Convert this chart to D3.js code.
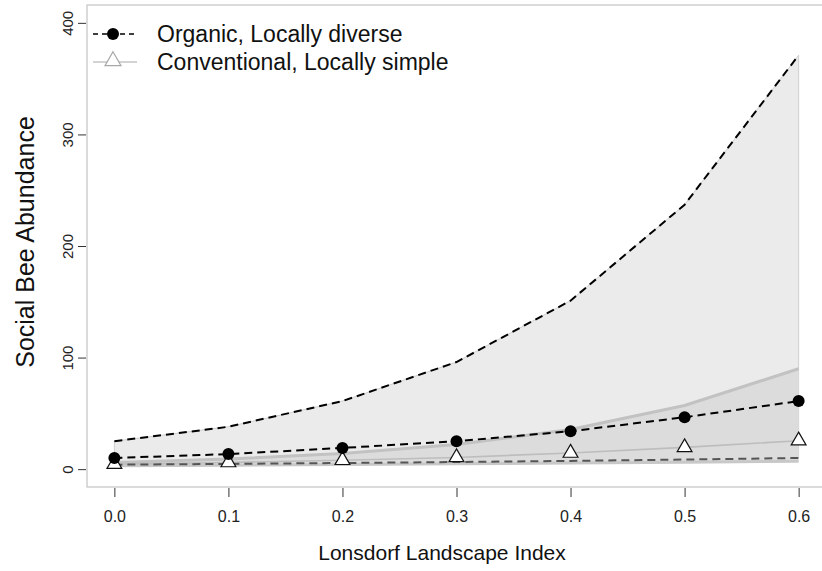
<!DOCTYPE html>
<html>
<head>
<meta charset="utf-8">
<script src="https://cdn.jsdelivr.net/npm/d3@7/dist/d3.min.js"></script>
<style>
  html, body { margin: 0; padding: 0; background: #fff; }
  svg { display: block; font-family: "Liberation Sans", Arial, sans-serif; }
</style>
</head>
<body>
<svg id="chart" width="822" height="571"></svg>
<script>
// ---- data ----
const landscape = [0.0, 0.1, 0.2, 0.3, 0.4, 0.5, 0.6];
const xTicks = [0.0, 0.1, 0.2, 0.3, 0.4, 0.5, 0.6];
const yTicks = [0, 100, 200, 300, 400];

const organicMean  = [10, 13.5, 19, 25, 34, 46.5, 61];
const organicUpper = [25, 38, 61, 96, 151, 237, 371];
const organicLower = [4, 4.7, 5.5, 6.4, 7.4, 8.6, 10];

const conventionalMean  = [4.5, 6, 8, 10.5, 14.5, 19.5, 25.5];
const conventionalUpper = [6, 9, 14, 22, 35.5, 57, 90];
const conventionalLower = [3, 3.6, 4.2, 4.8, 5.5, 6.2, 7];

const legendLabels = ["Organic, Locally diverse", "Conventional, Locally simple"];
const xLabel = "Lonsdorf Landscape Index";
const yLabel = "Social Bee Abundance";

// ---- layout ----
const svg = d3.select("#chart");
const box = { left: 87, right: 826, top: 5, bottom: 487 };

const x = d3.scaleLinear().domain([-0.024, 0.624]).range([box.left, box.right]);
const y = d3.scaleLinear().domain([-16, 416]).range([box.bottom, box.top]);

const pts = (arr) => arr.map((v, i) => [landscape[i], v]);
const line = d3.line().x(d => x(d[0])).y(d => y(d[1]));
const band = (lo, hi) => d3.area()
  .x((d, i) => x(landscape[i]))
  .y0((d, i) => y(lo[i]))
  .y1((d, i) => y(hi[i]))(landscape);

// bands
svg.append("path").attr("d", band(organicLower, organicUpper))
  .attr("fill", "#ebebeb").attr("stroke", "#cfcfcf").attr("stroke-width", 1);
svg.append("path").attr("d", band(conventionalLower, conventionalUpper))
  .attr("fill", "#dcdcdc").attr("stroke", "none");

// conventional lines
svg.append("path").attr("d", line(pts(conventionalUpper)))
  .attr("fill", "none").attr("stroke", "#c2c2c2").attr("stroke-width", 3);
svg.append("path").attr("d", line(pts(conventionalLower)))
  .attr("fill", "none").attr("stroke", "#c8c8c8").attr("stroke-width", 3);
svg.append("path").attr("d", line(pts(conventionalMean)))
  .attr("fill", "none").attr("stroke", "#bdbdbd").attr("stroke-width", 1.6);

// organic lines
svg.append("path").attr("d", line(pts(organicUpper)))
  .attr("fill", "none").attr("stroke", "#000").attr("stroke-width", 2)
  .attr("stroke-dasharray", "8,5");
svg.append("path").attr("d", line(pts(organicLower)))
  .attr("fill", "none").attr("stroke", "#555").attr("stroke-width", 2)
  .attr("stroke-dasharray", "8,5");
svg.append("path").attr("d", line(pts(organicMean)))
  .attr("fill", "none").attr("stroke", "#000").attr("stroke-width", 2)
  .attr("stroke-dasharray", "8,5");

// markers
const tri = d3.symbol().type(d3.symbolTriangle).size(95);
svg.append("g").selectAll("path").data(pts(conventionalMean)).join("path")
  .attr("d", tri)
  .attr("transform", d => `translate(${x(d[0])},${y(d[1])})`)
  .attr("fill", "#fff").attr("stroke", "#111").attr("stroke-width", 1.2);
svg.append("g").selectAll("circle").data(pts(organicMean)).join("circle")
  .attr("cx", d => x(d[0])).attr("cy", d => y(d[1])).attr("r", 6)
  .attr("fill", "#000");

// frame
svg.append("rect")
  .attr("x", box.left).attr("y", box.top)
  .attr("width", box.right - box.left).attr("height", box.bottom - box.top)
  .attr("fill", "none").attr("stroke", "#c4c4c4").attr("stroke-width", 1.2);

// x axis
const xAxis = svg.append("g").attr("transform", `translate(0,${box.bottom + 1})`)
  .call(d3.axisBottom(x).tickValues(xTicks).tickFormat(d3.format(".1f"))
    .tickSize(9).tickPadding(14));
xAxis.select(".domain").remove();
xAxis.selectAll(".tick line").attr("stroke", "#333");
xAxis.selectAll(".tick text").attr("fill", "#222")
  .style("font-size", "16px").style("font-family", "Liberation Sans, Arial, sans-serif");

// y axis
const yAxis = svg.append("g").attr("transform", `translate(${box.left - 1},0)`)
  .call(d3.axisLeft(y).tickValues(yTicks).tickFormat(d3.format("d")).tickSize(8));
yAxis.select(".domain").remove();
yAxis.selectAll(".tick line").attr("stroke", "#333");
yAxis.selectAll(".tick text")
  .attr("x", null).attr("dy", null)
  .attr("text-anchor", "middle")
  .attr("transform", "translate(-13,0) rotate(-90)")
  .attr("fill", "#222")
  .style("font-size", "15px").style("font-family", "Liberation Sans, Arial, sans-serif");

// axis labels
svg.append("text").attr("x", 442).attr("y", 560).attr("text-anchor", "middle")
  .style("font-size", "21px").attr("fill", "#111").text(xLabel);
svg.append("text").attr("transform", "translate(34,242) rotate(-90)")
  .attr("text-anchor", "middle").style("font-size", "25px").attr("fill", "#111")
  .text(yLabel);

// legend
const lg = svg.append("g");
lg.append("line").attr("x1", 93).attr("x2", 137).attr("y1", 34).attr("y2", 34)
  .attr("stroke", "#000").attr("stroke-width", 1.5).attr("stroke-dasharray", "5,4");
lg.append("circle").attr("cx", 113).attr("cy", 34).attr("r", 6).attr("fill", "#000");
lg.append("line").attr("x1", 93).attr("x2", 137).attr("y1", 62).attr("y2", 62)
  .attr("stroke", "#c4c4c4").attr("stroke-width", 1.5);
lg.append("path").attr("d", d3.symbol().type(d3.symbolTriangle).size(110)())
  .attr("transform", "translate(113,61)")
  .attr("fill", "#fff").attr("stroke", "#a8a8a8").attr("stroke-width", 1.2);
lg.selectAll("text").data(legendLabels).join("text")
  .attr("x", 157).attr("y", (d, i) => 42 + i * 28)
  .style("font-size", "23px").attr("fill", "#111").text(d => d);
</script>
</body>
</html>
